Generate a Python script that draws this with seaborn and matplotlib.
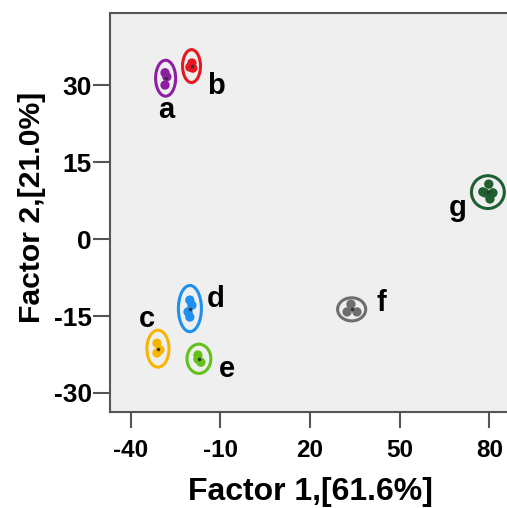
import matplotlib
matplotlib.use("Agg")
import matplotlib.pyplot as plt
from matplotlib.patches import Ellipse
import seaborn as sns
import pandas as pd

# groups and their sample scores (Factor 1, Factor 2)
groups = ["a", "b", "c", "d", "e", "f", "g"]
f1_a = [-28.5, -27.9, -28.5]
f2_a = [32.4, 31.6, 30.0]
f1_b = [-19.5, -19.2, -20.2]
f2_b = [34.3, 33.3, 33.5]
f1_c = [-31.2, -30.2, -31.2]
f2_c = [-20.3, -21.6, -22.2]
f1_d = [-20.2, -19.5, -20.8, -20.2]
f2_d = [-11.9, -12.9, -14.2, -15.2]
f1_e = [-17.5, -16.5, -17.5]
f2_e = [-22.6, -24.0, -23.4]
f1_f = [33.7, 32.4, 35.7]
f2_f = [-12.7, -14.2, -14.2]
f1_g = [79.8, 78.5, 81.2, 80.2, 77.8]
f2_g = [10.7, 9.0, 9.0, 7.8, 9.2]

# confidence ellipse sizes (data units)
ell_w = [6.7, 6.0, 7.4, 7.7, 8.0, 9.4, 11.0]
ell_h = [7.0, 6.4, 7.2, 9.0, 5.7, 4.5, 6.4]

# group letter positions
lab_x = [-28.2, -11.4, -34.5, -11.4, -7.7, 44.0, 69.4]
lab_y = [25.1, 29.8, -15.6, -11.7, -25.3, -12.5, 6.0]

colors = ["#8E1FA3", "#E81620", "#F7B500", "#1E90F0", "#62C21A", "#6E6E6E", "#1F5F30"]

xticks = [-40, -10, 20, 50, 80]
yticks = [-30, -15, 0, 15, 30]

f1_all = [f1_a, f1_b, f1_c, f1_d, f1_e, f1_f, f1_g]
f2_all = [f2_a, f2_b, f2_c, f2_d, f2_e, f2_f, f2_g]
rows = []
for g, xs, ys in zip(groups, f1_all, f2_all):
    for x, y in zip(xs, ys):
        rows.append({"group": g, "F1": x, "F2": y})
df = pd.DataFrame(rows)

sns.set_style("ticks")
plt.rcParams["font.family"] = ["Liberation Sans", "DejaVu Sans"]
plt.rcParams["font.weight"] = "bold"

fig = plt.figure(figsize=(5.07, 5.08), dpi=100)
ax = fig.add_axes([0.217, 0.189, 0.783, 0.785])
ax.set_facecolor("#EFEFEF")

sns.scatterplot(data=df, x="F1", y="F2", hue="group", palette=colors,
                s=45, edgecolor="none", legend=False, ax=ax)

cent = df.groupby("group")[["F1", "F2"]].mean()
for i, g in enumerate(groups):
    cx, cy = cent.loc[g, "F1"], cent.loc[g, "F2"]
    ax.add_patch(Ellipse((cx, cy), ell_w[i], ell_h[i], fill=False,
                         edgecolor=colors[i], linewidth=2.2))
    ax.plot(cx, cy, "o", color="#333333", markersize=1.5)
    ax.text(lab_x[i], lab_y[i], g, ha="center", va="center",
            fontsize=21, fontweight="bold", color="black")

ax.set_xlim(-46.9, 85.9)
ax.set_ylim(-33.7, 44.0)
ax.set_xticks(xticks)
ax.set_yticks(yticks)
ax.set_xticklabels([str(t) for t in xticks])
ax.set_yticklabels([str(t) for t in yticks])
ax.tick_params(axis="x", direction="out", length=11.5, width=1.5, colors="#555555",
               labelcolor="black", labelsize=17.5, pad=8)
ax.tick_params(axis="y", direction="out", length=12, width=1.5, colors="#555555",
               labelcolor="black", labelsize=19, pad=1)
for s in ["left", "bottom", "top"]:
    ax.spines[s].set_color("#555555")
    ax.spines[s].set_linewidth(1.5)
ax.spines["right"].set_visible(False)

ax.set_xlabel("Factor 1,[61.6%]", fontsize=23, fontweight="bold", color="black")
ax.set_ylabel("Factor 2,[21.0%]", fontsize=21.7, fontweight="bold", color="black")
ax.xaxis.set_label_coords(0.504, -0.163)
ax.yaxis.set_label_coords(-0.161, 0.5125)

fig.savefig("out.png", dpi=100)
